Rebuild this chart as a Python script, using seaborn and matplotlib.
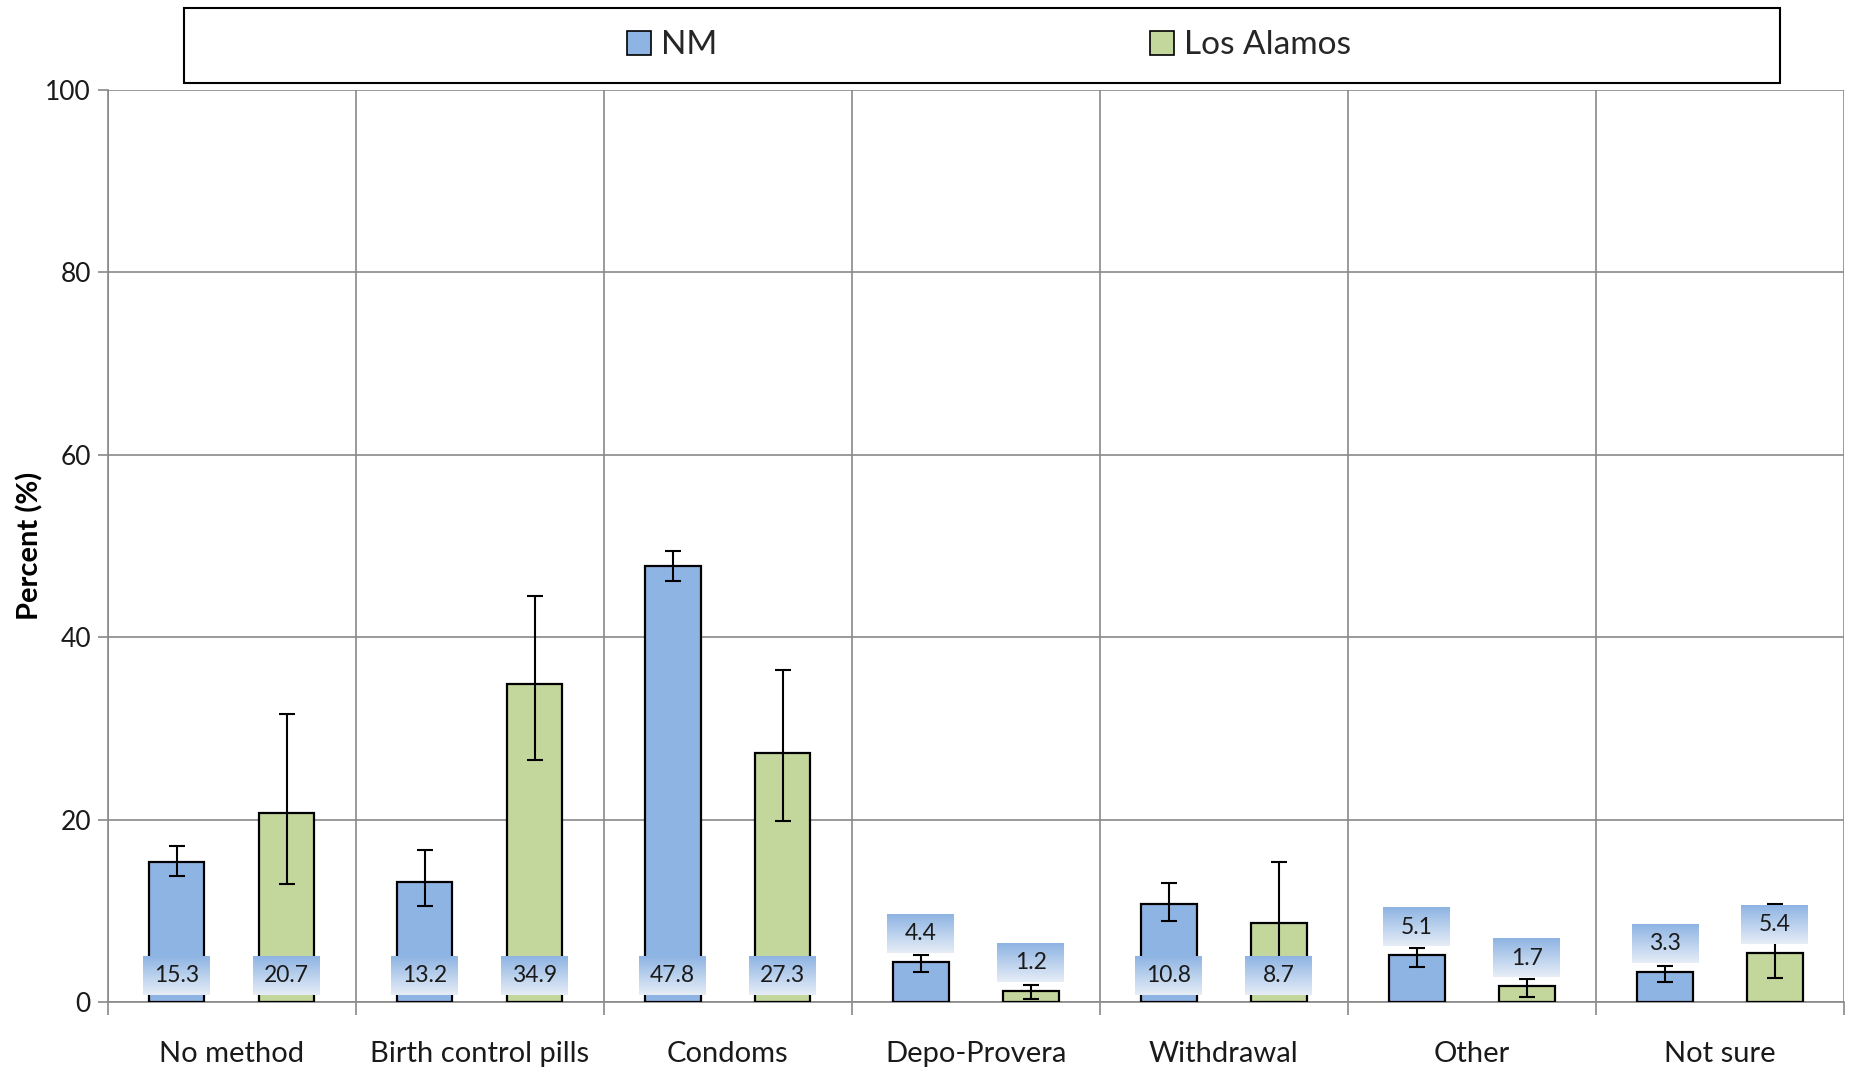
import numpy as np
import pandas as pd
import matplotlib
matplotlib.use("Agg")
import matplotlib.pyplot as plt
import seaborn as sns
from matplotlib.patches import Patch, Rectangle
from matplotlib.colors import LinearSegmentedColormap

categories = ["No method", "Birth control pills", "Condoms", "Depo-Provera",
              "Withdrawal", "Other", "Not sure"]
series = ["NM", "Los Alamos"]
nm_values = [15.3, 13.2, 47.8, 4.4, 10.8, 5.1, 3.3]
nm_low = [13.8, 10.5, 46.2, 3.3, 8.9, 3.8, 2.2]
nm_high = [17.1, 16.7, 49.5, 5.1, 13.0, 5.9, 4.0]
la_values = [20.7, 34.9, 27.3, 1.2, 8.7, 1.7, 5.4]
la_low = [12.9, 26.5, 19.9, 0.3, 4.8, 0.5, 2.6]
la_high = [31.6, 44.5, 36.4, 1.9, 15.3, 2.5, 10.8]
yticks = [0, 20, 40, 60, 80, 100]

colors = {"NM": "#8EB4E3", "Los Alamos": "#C3D69B"}
grid_color = "#898989"

sns.set_theme(style="white")
plt.rcParams["font.family"] = ["Lato", "DejaVu Sans"]

df = pd.DataFrame({
    "Method": categories * 2,
    "Region": ["NM"] * len(categories) + ["Los Alamos"] * len(categories),
    "Percent": nm_values + la_values,
})

fig = plt.figure(figsize=(18.51, 10.68), dpi=100)
ax = fig.add_axes([0.0581, 0.0618, 0.9962 - 0.0581, 0.9157 - 0.0618])

sns.barplot(data=df, x="Method", y="Percent", hue="Region", hue_order=series,
            order=categories, palette=colors, width=0.886, gap=0.494,
            edgecolor="black", linewidth=1.6, errorbar=None, legend=False,
            saturation=1, ax=ax, zorder=3)
bar_containers = list(ax.containers)

ax.set_xlim(-0.5, len(categories) - 0.5)
ax.set_ylim(0, 100)
ax.set_yticks(yticks)
ax.set_yticklabels([str(t) for t in yticks], fontsize=19, color="#1A1A1A")

# grid
ax.set_xticks(np.arange(len(categories) + 1) - 0.5, minor=True)
ax.grid(which="minor", axis="x", color=grid_color, linewidth=1.2, zorder=0)
ax.grid(which="major", axis="y", color=grid_color, linewidth=1.2, zorder=0)
ax.grid(which="major", axis="x", visible=False)
ax.set_axisbelow(True)
ax.tick_params(axis="x", which="major", length=0, pad=28, labelsize=21, labelcolor="#1A1A1A")
ax.tick_params(axis="x", which="minor", length=9, width=1.2, color=grid_color, direction="out", bottom=True)
ax.tick_params(axis="y", which="major", length=7, width=1.2, color=grid_color, direction="out", left=True, pad=5)
for s in ["top", "right"]:
    ax.spines[s].set_visible(False)
for s in ["left", "bottom"]:
    ax.spines[s].set_color(grid_color)
    ax.spines[s].set_linewidth(1.2)
ax.set_xlabel("")
ax.set_ylabel("Percent (%)", fontsize=21, fontweight="bold", color="black")
ax.yaxis.set_label_coords(-0.037, 0.5)

grad_cmap = LinearSegmentedColormap.from_list("lbl", ["#E6EDF7", "#8EB4E3"])
grad = np.linspace(0, 1, 64).reshape(-1, 1)

lows = [nm_low, la_low]
highs = [nm_high, la_high]
vals = [nm_values, la_values]
for si, cont in enumerate(bar_containers):
    xs = [b.get_x() + b.get_width() / 2 for b in cont]
    v = np.array(vals[si])
    lo = v - np.array(lows[si])
    hi = np.array(highs[si]) - v
    ax.errorbar(xs, v, yerr=[lo, hi], fmt="none", ecolor="black",
                elinewidth=1.5, capsize=6, capthick=1.5, zorder=4)
    for x, val in zip(xs, v):
        if val < 6:
            yc = val + 3.1
        else:
            yc = 2.9
        w, h = 0.27, 4.2
        ax.imshow(grad, extent=[x - w / 2, x + w / 2, yc - h / 2, yc + h / 2],
                  origin="lower", cmap=grad_cmap, aspect="auto", zorder=5)
        ax.text(x, yc, f"{val:.1f}", ha="center", va="center", fontsize=16.5,
                color="#1A1A1A", zorder=6)

ax.set_xlim(-0.5, len(categories) - 0.5)
ax.set_ylim(0, 100)

# legend with frame
fig.patches.append(Rectangle((184 / 1851, 1 - 83 / 1068), (1780 - 184) / 1851, (83 - 8) / 1068,
                             transform=fig.transFigure, fill=False, edgecolor="black",
                             linewidth=1.5, zorder=1))
handles = [Patch(facecolor=colors[s], edgecolor="black", linewidth=1.2, label=s) for s in series]
fig.legend(handles=handles, loc="center", bbox_to_anchor=(989 / 1851, 1 - 45.5 / 1068),
           ncol=2, frameon=False, fontsize=24, handlelength=0.7, handleheight=0.75,
           handletextpad=0.3, columnspacing=13.0)

fig.savefig("out.png", dpi=100)
